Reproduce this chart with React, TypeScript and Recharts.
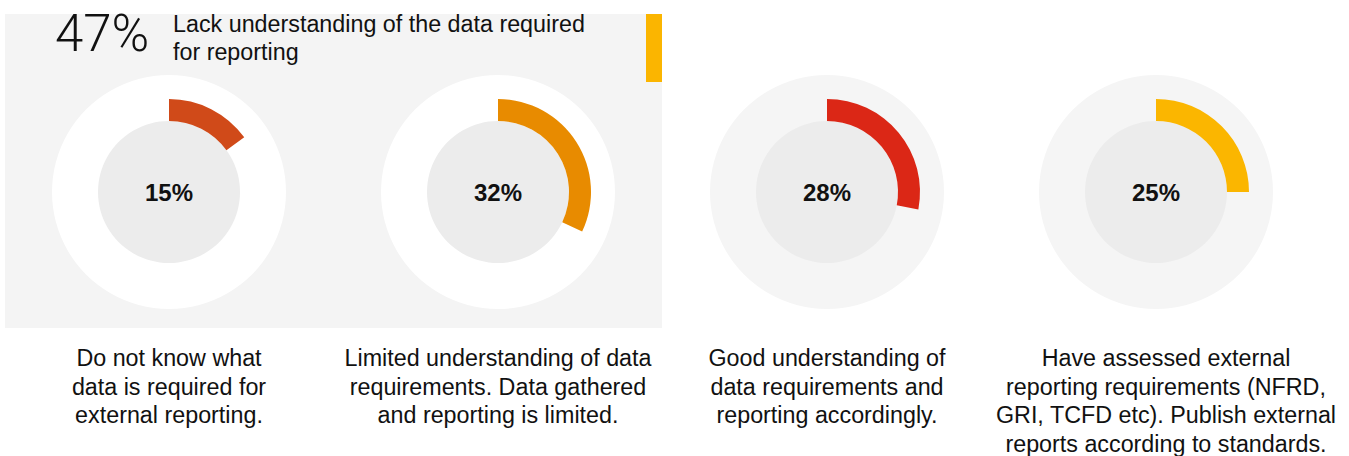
import React from "react";
import { PieChart, Pie, Cell } from "recharts";

// survey shares, one donut each
const shares = [15, 32, 28, 25];
const arcColors = ["#d04a19", "#e88b00", "#db2716", "#fbb600"];
const ringColors = ["#ffffff", "#ffffff", "#f5f5f5", "#f5f5f5"];
const descriptions = [
  ["Do not know what", "data is required for", "external reporting."],
  ["Limited understanding of data", "requirements. Data gathered", "and reporting is limited."],
  ["Good understanding of", "data requirements and", "reporting accordingly."],
  [
    "Have assessed external",
    "reporting requirements (NFRD,",
    "GRI, TCFD etc). Publish external",
    "reports according to standards.",
  ],
];
const headlineValue = "47%";
const headlineText = ["Lack understanding of the data required", "for reporting"];

const W = 1349;
const H = 456;
const centersX = [169, 498, 827, 1156];
const CY = 192;
const FONT = "'Liberation Sans', Arial, Helvetica, sans-serif";

export default function App() {
  return (
    <div
      style={{
        position: "absolute",
        left: 0,
        top: 0,
        width: W,
        height: H,
        background: "#fff",
        fontFamily: FONT,
        color: "#111",
      }}
    >
      {/* grey panel + yellow marker behind the first two donuts */}
      <div style={{ position: "absolute", left: 5, top: 14, width: 657, height: 314, background: "#f4f4f4" }} />
      <div style={{ position: "absolute", left: 646, top: 14, width: 16, height: 68, background: "#fbb500" }} />

      <div
        style={{
          position: "absolute",
          left: 55,
          top: 8,
          fontSize: 51,
          lineHeight: "51px",
          fontWeight: 300,
          fontFamily: "Roboto, " + FONT,
        }}
      >
        {headlineValue}
      </div>
      <div style={{ position: "absolute", left: 173, top: 10, fontSize: 23.3, lineHeight: "28px" }}>
        {headlineText.map((t) => (
          <div key={t}>{t}</div>
        ))}
      </div>

      <div style={{ position: "absolute", left: 0, top: 0 }}>
        <PieChart width={W} height={H} margin={{ top: 0, right: 0, bottom: 0, left: 0 }}>
          {shares.map((v, i) => (
            <Pie
              key={"ring" + i}
              data={[{ v: 1 }]}
              dataKey="v"
              cx={centersX[i]}
              cy={CY}
              innerRadius={0}
              outerRadius={117}
              fill={ringColors[i]}
              stroke="none"
              isAnimationActive={false}
            />
          ))}
          {shares.map((v, i) => (
            <Pie
              key={"core" + i}
              data={[{ v: 1 }]}
              dataKey="v"
              cx={centersX[i]}
              cy={CY}
              innerRadius={0}
              outerRadius={71}
              fill="#ececec"
              stroke="none"
              isAnimationActive={false}
            />
          ))}
          {shares.map((v, i) => (
            <Pie
              key={"arc" + i}
              data={[{ v }, { v: 100 - v }]}
              dataKey="v"
              cx={centersX[i]}
              cy={CY}
              innerRadius={71}
              outerRadius={93}
              startAngle={90}
              endAngle={-270}
              stroke="none"
              isAnimationActive={false}
              labelLine={false}
              label={(p: any) =>
                p.index === 0 ? (
                  <text
                    x={p.cx}
                    y={p.cy}
                    textAnchor="middle"
                    dominantBaseline="central"
                    fontFamily={FONT}
                    fontSize={24}
                    fontWeight="bold"
                    fill="#111"
                  >
                    {v}%
                  </text>
                ) : null
              }
            >
              <Cell fill={arcColors[i]} />
              <Cell fill="transparent" />
            </Pie>
          ))}
        </PieChart>
      </div>

      {descriptions.map((lines, i) => (
        <div
          key={i}
          style={{
            position: "absolute",
            left: centersX[i] + (i === 3 ? 10 : 0) - 180,
            width: 360,
            top: 344,
            textAlign: "center",
            fontSize: 23.3,
            lineHeight: "28.5px",
          }}
        >
          {lines.map((t) => (
            <div key={t}>{t}</div>
          ))}
        </div>
      ))}
    </div>
  );
}
